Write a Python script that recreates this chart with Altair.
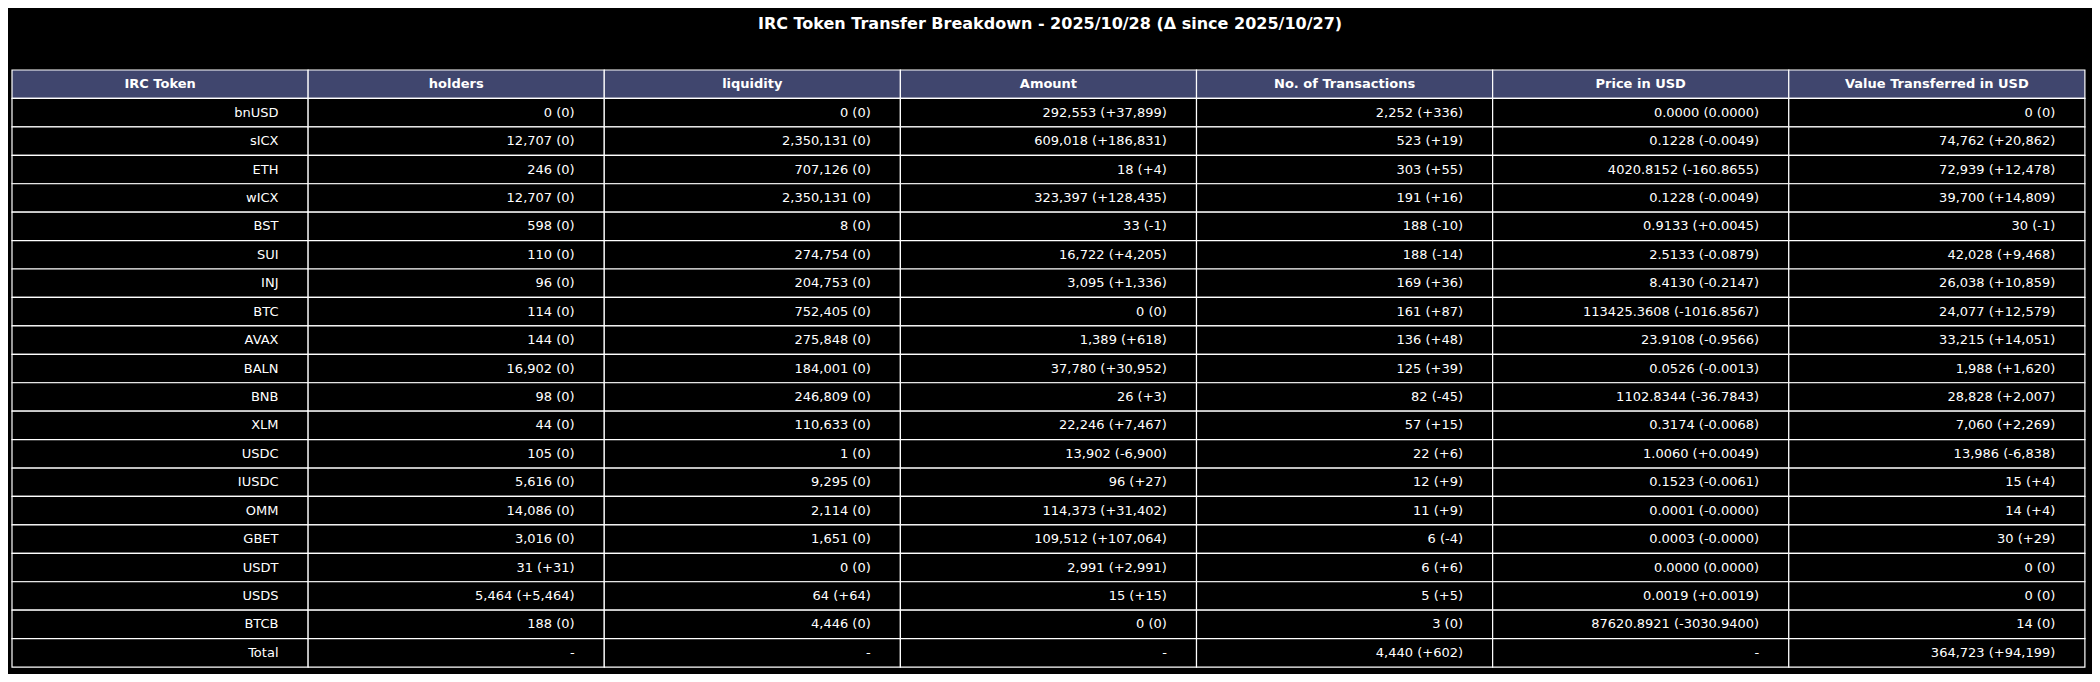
import altair as alt
import pandas as pd

columns = ["IRC Token", "holders", "liquidity", "Amount", "No. of Transactions",
           "Price in USD", "Value Transferred in USD"]
tokens = ["bnUSD", "sICX", "ETH", "wICX", "BST", "SUI", "INJ", "BTC", "AVAX", "BALN",
          "BNB", "XLM", "USDC", "IUSDC", "OMM", "GBET", "USDT", "USDS", "BTCB", "Total"]
holders = ["0 (0)", "12,707 (0)", "246 (0)", "12,707 (0)", "598 (0)", "110 (0)", "96 (0)",
           "114 (0)", "144 (0)", "16,902 (0)", "98 (0)", "44 (0)", "105 (0)", "5,616 (0)",
           "14,086 (0)", "3,016 (0)", "31 (+31)", "5,464 (+5,464)", "188 (0)", "-"]
liquidity = ["0 (0)", "2,350,131 (0)", "707,126 (0)", "2,350,131 (0)", "8 (0)", "274,754 (0)",
             "204,753 (0)", "752,405 (0)", "275,848 (0)", "184,001 (0)", "246,809 (0)",
             "110,633 (0)", "1 (0)", "9,295 (0)", "2,114 (0)", "1,651 (0)", "0 (0)",
             "64 (+64)", "4,446 (0)", "-"]
amount = ["292,553 (+37,899)", "609,018 (+186,831)", "18 (+4)", "323,397 (+128,435)", "33 (-1)",
          "16,722 (+4,205)", "3,095 (+1,336)", "0 (0)", "1,389 (+618)", "37,780 (+30,952)",
          "26 (+3)", "22,246 (+7,467)", "13,902 (-6,900)", "96 (+27)", "114,373 (+31,402)",
          "109,512 (+107,064)", "2,991 (+2,991)", "15 (+15)", "0 (0)", "-"]
transactions = ["2,252 (+336)", "523 (+19)", "303 (+55)", "191 (+16)", "188 (-10)", "188 (-14)",
                "169 (+36)", "161 (+87)", "136 (+48)", "125 (+39)", "82 (-45)", "57 (+15)",
                "22 (+6)", "12 (+9)", "11 (+9)", "6 (-4)", "6 (+6)", "5 (+5)", "3 (0)",
                "4,440 (+602)"]
price = ["0.0000 (0.0000)", "0.1228 (-0.0049)", "4020.8152 (-160.8655)", "0.1228 (-0.0049)",
         "0.9133 (+0.0045)", "2.5133 (-0.0879)", "8.4130 (-0.2147)", "113425.3608 (-1016.8567)",
         "23.9108 (-0.9566)", "0.0526 (-0.0013)", "1102.8344 (-36.7843)", "0.3174 (-0.0068)",
         "1.0060 (+0.0049)", "0.1523 (-0.0061)", "0.0001 (-0.0000)", "0.0003 (-0.0000)",
         "0.0000 (0.0000)", "0.0019 (+0.0019)", "87620.8921 (-3030.9400)", "-"]
value_usd = ["0 (0)", "74,762 (+20,862)", "72,939 (+12,478)", "39,700 (+14,809)", "30 (-1)",
             "42,028 (+9,468)", "26,038 (+10,859)", "24,077 (+12,579)", "33,215 (+14,051)",
             "1,988 (+1,620)", "28,828 (+2,007)", "7,060 (+2,269)", "13,986 (-6,838)",
             "15 (+4)", "14 (+4)", "30 (+29)", "0 (0)", "0 (0)", "14 (0)", "364,723 (+94,199)"]

body = [tokens, holders, liquidity, amount, transactions, price, value_usd]
records = []
for c, name in enumerate(columns):
    records.append({"col": c, "row": 0, "label": name, "header": True})
    for r, val in enumerate(body[c]):
        records.append({"col": c, "row": r + 1, "label": val, "header": False})
df = pd.DataFrame(records)

W, H = 2084, 666
xs = alt.Scale(domain=[-0.0135, 7.024], nice=False, zero=False)
ys = alt.Scale(domain=[-2.181, 21.245], nice=False, zero=False, reverse=True)

base = alt.Chart(df).transform_calculate(
    col2="datum.col + 1", row2="datum.row + 1",
    tx="datum.header ? datum.col + 0.5 : datum.col + 0.9", ty="datum.row + 0.5")

cells = base.mark_rect(stroke="white", strokeWidth=1.2).encode(
    x=alt.X("col:Q", scale=xs, axis=None), x2="col2:Q",
    y=alt.Y("row:Q", scale=ys, axis=None), y2="row2:Q",
    color=alt.condition("datum.header", alt.value("#40466e"), alt.value("#000000")))

head_txt = base.transform_filter("datum.header").mark_text(
    font="DejaVu Sans", fontSize=13, fontWeight="bold", color="white", align="center",
    baseline="middle").encode(
    x=alt.X("tx:Q", scale=xs), y=alt.Y("ty:Q", scale=ys), text="label:N")

body_txt = base.transform_filter("!datum.header").mark_text(
    font="DejaVu Sans", fontSize=13, color="white", align="right",
    baseline="middle").encode(
    x=alt.X("tx:Q", scale=xs), y=alt.Y("ty:Q", scale=ys), text="label:N")

title = alt.Chart(pd.DataFrame({"t": ["IRC Token Transfer Breakdown - 2025/10/28 (Δ since 2025/10/27)"]})).mark_text(
    font="DejaVu Sans", fontSize=16, fontWeight="bold", color="white", align="center",
    baseline="middle").encode(x=alt.value(1042), y=alt.value(16), text="t:N")

chart = (cells + head_txt + body_txt + title).properties(
    width=W, height=H, background="#000000", padding=0,
    autosize=alt.AutoSizeParams(type="none")
).configure_view(stroke=None)

chart.save("out.html", embed_options={"renderer": "svg", "actions": False})
